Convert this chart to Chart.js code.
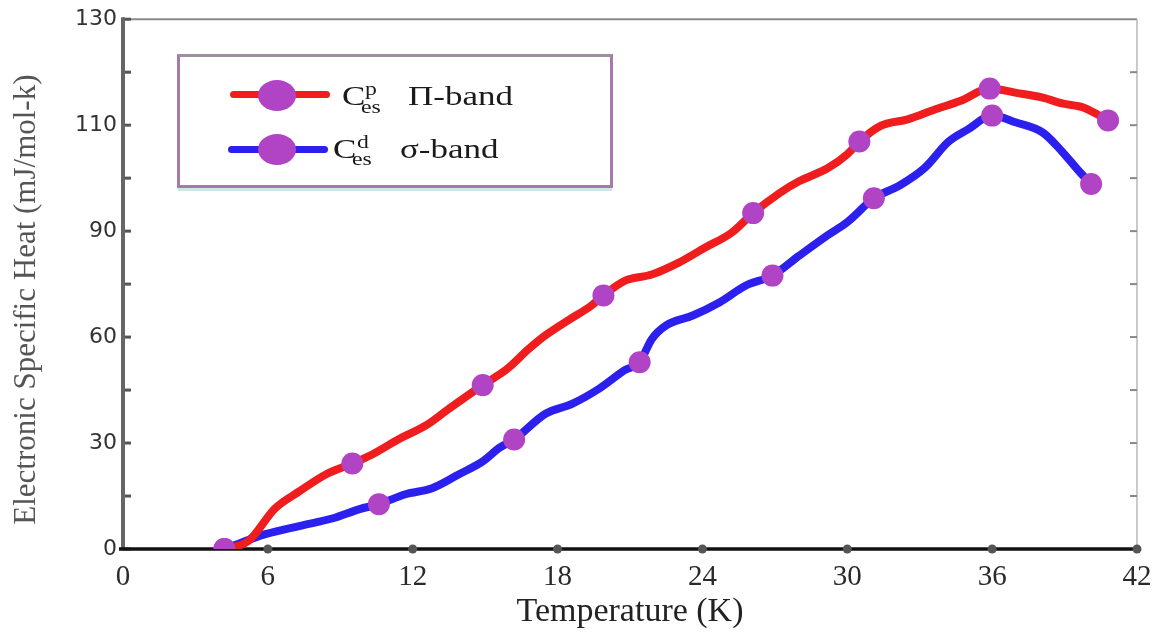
<!DOCTYPE html>
<html>
<head>
<meta charset="utf-8">
<script src="https://cdn.jsdelivr.net/npm/chart.js@4/dist/chart.umd.min.js"></script>
<style>
  body { margin: 0; background: #fff; }
  #wrap { position: relative; width: 1165px; height: 635px; }
  #wrap canvas { position: absolute; left: 0; top: 0; }
  .box { position: absolute; left: 177px; top: 54px; width: 436px; height: 134px; box-sizing: border-box;
         border: 3px solid #a67aa8; border-top-color: #9c929e; box-shadow: 0 4px 0 -1px #cfe6e2; }
  .ln { position: absolute; height: 7px; border-radius: 4px; }
  .dot { position: absolute; width: 38px; height: 31px; border-radius: 50%; background: #b044c4; }
  .t { position: absolute; font-family: "Liberation Serif", serif; color: #1a1a1a; white-space: nowrap;
       transform-origin: left top; transform: scaleX(1.25); }
  .big { font-size: 28px; line-height: 28px; }
  .sm { font-size: 19px; line-height: 19px; }
</style>
</head>
<body>
<div id="wrap">
  <canvas id="chart"></canvas>
  <div class="box"></div>
  <div class="ln" style="left:230px;top:91px;width:100px;background:#ef1d1d"></div>
  <div class="dot" style="left:258px;top:80px"></div>
  <div class="t big" style="left:342px;top:82px">C</div>
  <div class="t sm" style="left:365px;top:79px">p</div>
  <div class="t sm" style="left:361px;top:97px">es</div>
  <div class="t big" style="left:408px;top:82px">Π-band</div>
  <div class="ln" style="left:228px;top:146px;width:100px;background:#2b20ee"></div>
  <div class="dot" style="left:258px;top:134px"></div>
  <div class="t big" style="left:333px;top:135px">C</div>
  <div class="t sm" style="left:357px;top:132px">d</div>
  <div class="t sm" style="left:352px;top:149px">es</div>
  <div class="t big" style="left:400px;top:135px">σ-band</div>
</div>
<script>
// y axis labels are evenly spaced on the page but not in value
const yTicks = [0, 30, 60, 90, 110, 130];
const xTicks = [0, 6, 12, 18, 24, 30, 36, 42];

// Π-band (red)
const redT = [4.2, 5.2, 6.3, 7.3, 8.4, 9.5, 10.3, 11.4, 12.6, 13.5, 14.9, 15.9, 16.8, 17.5, 18.5, 19.4, 19.9,
  20.8, 21.9, 23.0, 24.1, 25.2, 26.1, 27.2, 28.0, 29.2, 30.0, 30.5, 31.4, 32.5, 33.6, 34.7, 35.9,
  37.0, 38.1, 38.9, 39.8, 40.8];
const redC = [0, 2.3, 11.5, 16.3, 21.1, 24.2, 26.7, 31.0, 35.2, 39.7, 46.4, 50.9, 56.6, 60.5, 65.0, 68.9, 71.8,
  76.0, 77.7, 81.0, 85.3, 89.5, 93.4, 97.2, 99.4, 101.9, 104.5, 106.9, 109.9, 111.1, 112.9, 114.6, 116.9,
  116.1, 115.2, 114.1, 113.3, 110.9];
const redMarks = [4.2, 9.5, 14.9, 19.9, 26.1, 30.5, 35.9, 40.8];

// σ-band (blue)
const blueT = [4.2, 5.9, 7.3, 8.7, 9.8, 10.6, 11.7, 12.8, 13.9, 14.9, 15.6, 16.2, 17.5, 18.6, 19.7, 20.8, 21.4,
  21.9, 22.5, 23.6, 24.7, 25.8, 26.9, 28.0, 29.2, 30.0, 31.1, 32.2, 33.2, 34.2, 35.0, 36.0,
  37.0, 38.1, 38.9, 39.6, 40.1];
const blueC = [0, 4.2, 6.5, 8.7, 11.3, 12.7, 15.5, 17.2, 21.1, 24.8, 28.7, 31.0, 38.3, 41.1, 45.3, 50.7, 52.9,
  59.4, 63.3, 66.1, 69.8, 74.6, 77.4, 83.0, 88.9, 91.7, 96.2, 98.7, 101.9, 106.9, 109.2, 111.8,
  110.5, 108.6, 105.0, 101.3, 98.9];
const blueMarks = [4.2, 10.6, 16.2, 21.4, 26.9, 31.1, 36.0, 40.1];

const toIdx = (v) => {
  for (let i = 0; i < yTicks.length - 1; i++) {
    if (v <= yTicks[i + 1] || i === yTicks.length - 2) {
      return i + (v - yTicks[i]) / (yTicks[i + 1] - yTicks[i]);
    }
  }
  return 0;
};
const fromIdx = (d) => {
  const i = Math.max(0, Math.min(yTicks.length - 2, Math.floor(d)));
  return yTicks[i] + (d - i) * (yTicks[i + 1] - yTicks[i]);
};

class PiecewiseScale extends Chart.LinearScale {
  static id = 'piecewise';
  static defaults = {};
  buildTicks() {
    this.start = this.min;
    this.end = this.max;
    return yTicks.map(v => ({ value: v }));
  }
  getPixelForValue(value) {
    return this.getPixelForDecimal(toIdx(value) / (yTicks.length - 1));
  }
  getValueForPixel(pixel) {
    return fromIdx(this.getDecimalForPixel(pixel) * (yTicks.length - 1));
  }
}
Chart.register(PiecewiseScale);

const pts = (ts, cs) => ts.map((t, i) => ({ x: t, y: cs[i] }));

// axis frame, inner ticks and tick dots like the original plot
const framePlugin = {
  id: 'frame',
  beforeDatasetsDraw(chart) {
    const { ctx, chartArea: a, scales: { x, y } } = chart;
    const line = (x1, y1, x2, y2) => { ctx.beginPath(); ctx.moveTo(x1, y1); ctx.lineTo(x2, y2); ctx.stroke(); };
    ctx.save();
    ctx.strokeStyle = '#8a8a8a'; ctx.lineWidth = 2;
    line(a.left, a.top, a.right, a.top);
    ctx.strokeStyle = '#b8b8b8'; ctx.lineWidth = 1.5;
    line(a.right, a.top, a.right, a.bottom);
    for (let k = 0; k <= 10; k++) {
      const py = y.getPixelForDecimal(k / 10);
      ctx.strokeStyle = '#555'; ctx.lineWidth = 3;
      line(a.left, py, a.left + 8, py);
      if (k > 0 && k < 10) {
        ctx.strokeStyle = '#888'; ctx.lineWidth = 2;
        line(a.right - 7, py, a.right, py);
      }
    }
    ctx.strokeStyle = '#666'; ctx.lineWidth = 4;
    line(a.left, a.top - 2, a.left, a.bottom);
    ctx.strokeStyle = '#111'; ctx.lineWidth = 3.5;
    line(a.left - 4, a.bottom, a.right + 4, a.bottom);
    ctx.fillStyle = '#555';
    xTicks.forEach(v => {
      if (v === 0) return;
      ctx.beginPath(); ctx.arc(x.getPixelForValue(v), a.bottom, 4.5, 0, Math.PI * 2); ctx.fill();
    });
    ctx.restore();
  }
};

new Chart(document.getElementById('chart'), {
  type: 'line',
  data: {
    datasets: [
      {
        label: 'Π-band',
        data: pts(redT, redC),
        borderColor: '#ef1d1d',
        borderWidth: 8,
        cubicInterpolationMode: 'monotone',
        pointRadius: (c) => redMarks.includes(redT[c.dataIndex]) ? 11 : 0,
        pointBackgroundColor: '#b044c4',
        pointBorderWidth: 0,
      },
      {
        label: 'σ-band',
        data: pts(blueT, blueC),
        borderColor: '#2b20ee',
        borderWidth: 8,
        cubicInterpolationMode: 'monotone',
        pointRadius: (c) => blueMarks.includes(blueT[c.dataIndex]) ? 11 : 0,
        pointBackgroundColor: '#b044c4',
        pointBorderWidth: 0,
      },
    ],
  },
  options: {
    responsive: true,
    maintainAspectRatio: false,
    animation: false,
    layout: { padding: { top: 16, right: 28, left: 0, bottom: 0 } },
    plugins: {
      legend: { display: false },
      tooltip: { enabled: false },
    },
    scales: {
      x: {
        type: 'linear',
        min: 0,
        max: 42,
        afterFit: (s) => { s.height = 86; },
        afterBuildTicks: (s) => { s.ticks = xTicks.map(v => ({ value: v })); },
        grid: { display: false, drawTicks: false },
        border: { display: false },
        ticks: {
          padding: 11,
          color: '#2a2a2a',
          font: { family: 'Liberation Serif', size: 29 },
          callback: (v) => String(v),
        },
        title: {
          display: true,
          text: 'Temperature (K)',
          color: '#222',
          font: { family: 'Liberation Serif', size: 34 },
          padding: { top: 0, bottom: 3 },
        },
      },
      y: {
        type: 'piecewise',
        min: 0,
        max: 130,
        afterFit: (s) => { s.width = 123; },
        grid: { display: false, drawTicks: false },
        border: { display: false },
        ticks: {
          padding: 6,
          color: '#333',
          font: { family: 'DejaVu Sans', size: 22 },
          callback: (v) => String(v),
        },
        title: {
          display: true,
          text: 'Electronic Specific Heat (mJ/mol-k)    ',
          color: '#555',
          font: { family: 'Liberation Serif', size: 31 },
          padding: { top: 8, bottom: 0 },
        },
      },
    },
  },
  plugins: [framePlugin],
});
</script>
</body>
</html>
